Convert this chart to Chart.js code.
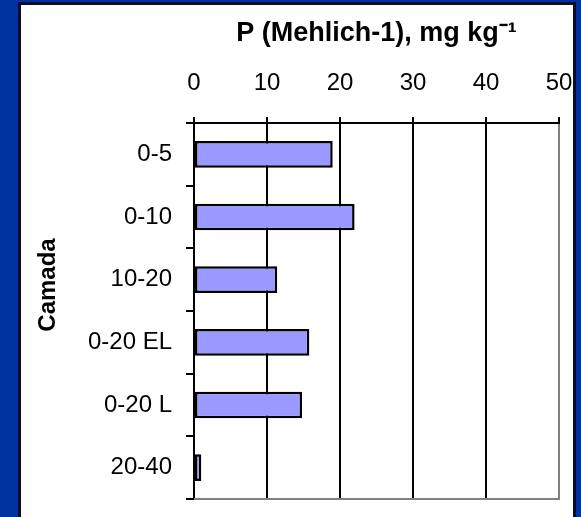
<!DOCTYPE html>
<html lang="pt">
<head>
  <meta charset="UTF-8">
  <title>P (Mehlich-1) por camada</title>
  <style>
    body {
      margin: 0;
      background-color: #0033a0;
      overflow: hidden;
    }
    #pChart {
      display: block;
    }
  </style>
  <script src="https://cdn.jsdelivr.net/npm/chart.js"></script>
</head>
<body>
  <canvas id="pChart" width="581" height="517"></canvas>

  <script>
    // Camadas (y) and P values in mg/kg (x)
    const camadas = ['0-5', '0-10', '10-20', '0-20 EL', '0-20 L', '20-40'];
    const pValues = [19.0, 22.0, 11.4, 15.8, 14.8, 1.0];
    const xTicks = [0, 10, 20, 30, 40, 50];

    const fontFamily = "Arial, 'Liberation Sans', sans-serif";

    // Blue slide background with the white chart panel
    const slidePanel = {
      id: 'slidePanel',
      beforeDraw(chart) {
        const ctx = chart.ctx;
        ctx.save();
        ctx.fillStyle = '#0033a0';
        ctx.fillRect(0, 0, chart.width, chart.height);
        ctx.fillStyle = '#0a0a2a';
        ctx.fillRect(18, 2, 558, 530);
        ctx.fillStyle = '#ffffff';
        ctx.fillRect(21, 5, 552, 530);
        ctx.restore();
      },
      afterDatasetsDraw(chart) {
        // grey bottom edge of the plot area
        const ctx = chart.ctx;
        const area = chart.chartArea;
        ctx.save();
        ctx.strokeStyle = '#808080';
        ctx.lineWidth = 2;
        ctx.beginPath();
        ctx.moveTo(area.left, area.bottom);
        ctx.lineTo(area.right + 1, area.bottom);
        ctx.stroke();
        ctx.restore();
      },
      afterDraw(chart) {
        // "Camada" side label sits a bit above the plot centre
        const ctx = chart.ctx;
        ctx.save();
        ctx.translate(48, 285);
        ctx.rotate(-Math.PI / 2);
        ctx.font = 'bold 24px ' + fontFamily;
        ctx.fillStyle = '#000';
        ctx.textAlign = 'center';
        ctx.textBaseline = 'middle';
        ctx.fillText('Camada', 0, 0);
        ctx.restore();
      }
    };

    const ctx = document.getElementById('pChart').getContext('2d');
    const pChart = new Chart(ctx, {
      type: 'bar',
      data: {
        labels: camadas,
        datasets: [{
          data: pValues,
          backgroundColor: '#9999ff',
          borderColor: '#000000',
          borderWidth: 2.5,
          borderSkipped: false,
          barPercentage: 0.425,
          categoryPercentage: 1.0
        }]
      },
      options: {
        indexAxis: 'y',
        responsive: false,
        animation: false,
        layout: {
          padding: { left: 0, top: 0, right: 22, bottom: 18 }
        },
        scales: {
          x: {
            position: 'top',
            min: xTicks[0],
            max: xTicks[xTicks.length - 1],
            afterBuildTicks: (scale) => {
              scale.ticks = xTicks.map(v => ({ value: v }));
            },
            afterFit: (scale) => {
              scale.height = 123;
              scale.paddingLeft = 0;
              scale.paddingRight = 0;
            },
            title: {
              display: true,
              text: 'P (Mehlich-1), mg kg⁻¹',
              color: '#000',
              font: { family: fontFamily, size: 27, weight: 'bold' },
              padding: { top: 17, bottom: 0 }
            },
            ticks: {
              color: '#000',
              font: { family: fontFamily, size: 24 },
              padding: 19,
              maxRotation: 0
            },
            grid: {
              color: (c) => (c.tick && c.tick.value === 50 ? '#808080' : '#000000'),
              tickColor: '#000000',
              lineWidth: 2,
              tickLength: 6
            },
            border: { color: '#000', width: 2 }
          },
          y: {
            afterFit: (scale) => {
              scale.width = 194;
              scale.paddingTop = 0;
              scale.paddingBottom = 0;
            },
            ticks: {
              color: '#000',
              font: { family: fontFamily, size: 24 },
              padding: 14
            },
            grid: {
              drawOnChartArea: false,
              color: '#000',
              lineWidth: 2,
              tickLength: 8
            },
            border: { color: '#000', width: 2 }
          }
        },
        plugins: {
          legend: { display: false },
          tooltip: { enabled: false }
        }
      },
      plugins: [slidePanel]
    });
  </script>
</body>
</html>
